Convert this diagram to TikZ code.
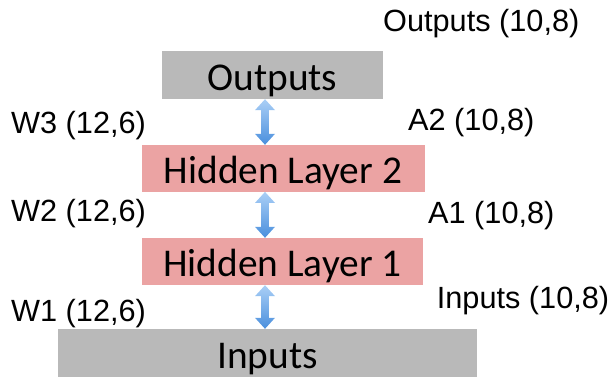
\documentclass[tikz,border=0pt]{standalone}
\usepackage{fontspec}
\setmainfont{Liberation Sans}
\newfontfamily\boxfont{Carlito}
\usetikzlibrary{calc}
\definecolor{cgreybox}{HTML}{B9B9B9}
\definecolor{credbox}{HTML}{EBA3A3}
\definecolor{clight}{HTML}{AACFF6}
\definecolor{cdark}{HTML}{4A8FDD}
\tikzset{
  every picture/.style={x=1bp, y=-1bp},
  layer/.style 2 args={fill=#1, inner sep=0pt, text height=#2, anchor=base,
    font=\boxfont\fontsize{39.5}{42}\selectfont},
  tag/.style={anchor=base west, inner sep=0pt, font=\fontsize{30.8}{34}\selectfont},
  link/.style={top color=clight, bottom color=cdark, draw=none},
}
% shaded double arrow between two points
\newcommand\updown[2]{%
  \shade[link] (#1) -- ($(#1)+(10,11)$) -- ($(#1)+(3.8,11)$) -- ($(#2)+(3.8,-11)$)
    -- ($(#2)+(10,-11)$) -- (#2) -- ($(#2)+(-10,-11)$) -- ($(#2)+(-3.8,-11)$)
    -- ($(#1)+(-3.8,11)$) -- ($(#1)+(-10,11)$) -- cycle;}

\begin{document}
\begin{tikzpicture}
  \useasboundingbox (0,0) rectangle (608,377);
  % layers
  \node[layer={cgreybox}{39bp}, text depth=9bp, minimum width=221bp] (out) at (272.5,90) {Outputs};
  \node[layer={credbox}{38bp}, text depth=8.7bp, minimum width=283bp] (hid2) at (283,183) {Hidden Layer 2};
  \node[layer={credbox}{38.7bp}, text depth=8.3bp, minimum width=281bp] (hid1) at (282.5,276.7) {Hidden Layer 1};
  \node[layer={cgreybox}{39bp}, text depth=9bp, minimum width=419bp] (in) at (267.5,368) {Inputs};
  % sizes
  \node[tag] (outsz) at (383,31.5) {Outputs (10,8)};
  \node[tag] (w3) at (11,133) {W3 (12,6)};
  \node[tag] (a2) at (408,130.7) {A2 (10,8)};
  \node[tag] (w2) at (11,221.7) {W2 (12,6)};
  \node[tag] (a1) at (428,223) {A1 (10,8)};
  \node[tag] (w1) at (11,321) {W1 (12,6)};
  \node[tag] (insz) at (436.7,308.5) {Inputs (10,8)};
  % arrows
  \coordinate (ax) at (265,0);
  \updown{out.south -| ax}{hid2.north -| ax}
  \updown{hid2.south -| ax}{hid1.north -| ax}
  \updown{hid1.south -| ax}{in.north -| ax}
\end{tikzpicture}
\end{document}
